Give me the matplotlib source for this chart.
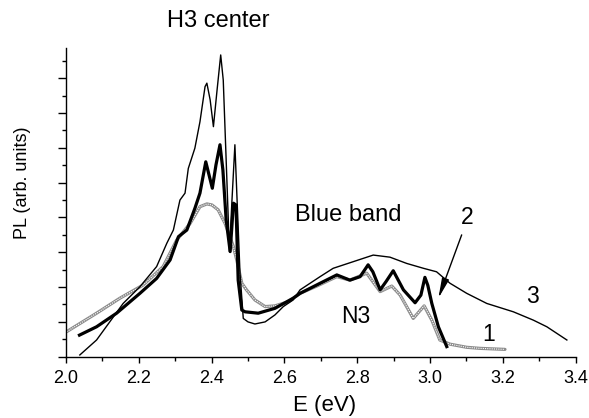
import matplotlib
matplotlib.use("Agg")
import matplotlib.pyplot as plt
from matplotlib.ticker import MultipleLocator, NullFormatter

plt.rcParams['font.family'] = ['Liberation Sans', 'DejaVu Sans']

# Spectrum 3 (thin line)
e3 = [2.038, 2.084, 2.157, 2.203, 2.249, 2.277, 2.295, 2.313, 2.327, 2.336, 2.354,
      2.368, 2.382, 2.387, 2.396, 2.405, 2.415, 2.425, 2.432, 2.440, 2.449, 2.456,
      2.464, 2.470, 2.478, 2.487, 2.500, 2.519, 2.547, 2.574, 2.597, 2.624, 2.643,
      2.698, 2.734, 2.789, 2.844, 2.890, 2.936, 2.982, 3.018, 3.055, 3.101, 3.156,
      3.229, 3.284, 3.321, 3.376]
pl3 = [0.05, 0.48, 1.53, 2.01, 2.59, 3.26, 3.64, 4.50, 4.70, 5.41, 5.99,
       6.75, 7.76, 7.86, 7.38, 6.61, 7.66, 8.67, 7.95, 5.65, 3.02, 4.50,
       6.09, 4.50, 2.41, 1.10, 1.00, 0.94, 1.00, 1.20, 1.44, 1.63, 1.92,
       2.30, 2.54, 2.73, 2.92, 2.86, 2.68, 2.54, 2.44, 2.11, 1.82, 1.53,
       1.29, 1.05, 0.86, 0.48]

# Spectrum 2 (thick line)
e2 = [2.037, 2.084, 2.139, 2.203, 2.249, 2.286, 2.309, 2.332, 2.354, 2.368, 2.384,
      2.402, 2.412, 2.423, 2.431, 2.440, 2.451, 2.460, 2.467, 2.473, 2.483, 2.492,
      2.528, 2.574, 2.624, 2.643, 2.698, 2.744, 2.780, 2.808, 2.830, 2.843, 2.863,
      2.880, 2.899, 2.927, 2.959, 2.975, 2.986, 2.994, 3.005, 3.023, 3.046]
pl2 = [0.62, 0.86, 1.25, 1.82, 2.25, 2.78, 3.45, 3.64, 4.26, 4.70, 5.60,
       4.84, 5.51, 6.09, 5.37, 3.93, 3.02, 4.41, 4.36, 2.20, 1.34, 1.29,
       1.25, 1.39, 1.68, 1.82, 2.11, 2.35, 2.20, 2.30, 2.64, 2.44, 1.92,
       2.17, 2.47, 1.92, 1.55, 1.77, 2.28, 2.05, 1.53, 0.86, 0.29]

# Spectrum 1 (open circles)
e1 = [2.002, 2.084, 2.148, 2.212, 2.267, 2.304, 2.341, 2.368, 2.387, 2.401, 2.418,
      2.437, 2.460, 2.469, 2.483, 2.496, 2.519, 2.547, 2.574, 2.611, 2.643, 2.689,
      2.744, 2.780, 2.826, 2.863, 2.895, 2.918, 2.954, 2.984, 3.005, 3.027, 3.055,
      3.101, 3.137, 3.206]
pl1 = [0.72, 1.25, 1.68, 2.06, 2.59, 3.35, 3.83, 4.31, 4.39, 4.36, 4.22,
       3.83, 3.16, 2.78, 2.11, 1.92, 1.63, 1.44, 1.46, 1.58, 1.82, 2.03,
       2.30, 2.20, 2.40, 1.87, 2.03, 1.77, 1.10, 1.46, 1.05, 0.48, 0.36,
       0.27, 0.24, 0.21]

W, H = 589, 418
fig = plt.figure(figsize=(W / 100, H / 100), dpi=100)
left, right, bottom, top = 66, 575.6, 356.7, 48
ax = fig.add_axes([left / W, 1 - bottom / H, (right - left) / W, (bottom - top) / H])

# spectrum 1: grey chain of small open circles
ax.plot(e1, pl1, color='#8c8c8c', lw=2.3, solid_capstyle='round', zorder=2)
ax.plot(e1, pl1, color='white', lw=0.8, ls=(0, (1.0, 1.0)), zorder=2.1)
ax.plot(e3, pl3, color='black', lw=1.0, zorder=3)
ax.plot(e2, pl2, color='black', lw=2.3, zorder=4)

ax.set_xlim(2.0, 3.4)
ax.set_ylim(0, 8.87)
ax.xaxis.set_major_locator(MultipleLocator(0.2))
ax.xaxis.set_minor_locator(MultipleLocator(0.1))
ax.yaxis.set_major_locator(MultipleLocator(1.0))
ax.yaxis.set_minor_locator(MultipleLocator(0.5))
ax.yaxis.set_major_formatter(NullFormatter())
ax.set_xticklabels([f"{v:.1f}" for v in ax.get_xticks()])
ax.tick_params(axis='x', which='major', direction='out', length=4.5, width=1.0,
               labelsize=13, pad=5)
ax.tick_params(axis='x', which='minor', direction='out', length=3, width=1.0)
ax.tick_params(axis='y', which='major', direction='out', length=5.5, width=1.0)
ax.tick_params(axis='y', which='minor', direction='out', length=3, width=1.0)
for s in ('top', 'right'):
    ax.spines[s].set_visible(False)
for s in ('left', 'bottom'):
    ax.spines[s].set_linewidth(1.0)

fig.text(324.7 / W, 1 - 406 / H, 'E (eV)', ha='center', va='center', fontsize=16)
fig.text(23 / W, 1 - 182.7 / H, 'PL (arb. units)', ha='center', va='center',
         rotation=90, fontsize=13)
fig.text(218 / W, 1 - 21 / H, 'H3 center', ha='center', va='center', fontsize=17)

ax.text(2.775, 4.07, 'Blue band', ha='center', va='center', fontsize=17)
ax.text(2.797, 1.16, 'N3', ha='center', va='center', fontsize=16.5)
ax.text(3.103, 3.99, '2', ha='center', va='center', fontsize=16.5)
ax.text(3.282, 1.72, '3', ha='center', va='center', fontsize=16.5)
ax.text(3.162, 0.65, '1', ha='center', va='center', fontsize=16.5)
ax.annotate('', xy=(3.023, 1.68), xytext=(3.087, 3.50),
            arrowprops=dict(arrowstyle='-|>,head_length=1.0,head_width=0.18',
                            color='black', lw=1.0, mutation_scale=12,
                            shrinkA=0, shrinkB=0))

fig.savefig('out.png', dpi=100)
